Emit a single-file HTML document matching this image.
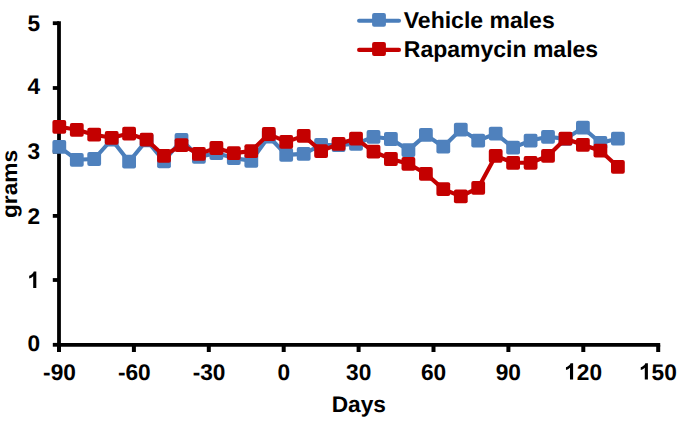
<!DOCTYPE html>
<html><head><meta charset="utf-8"><title>Chart</title>
<style>html,body{margin:0;padding:0;background:#fff;}body{width:688px;height:432px;overflow:hidden;font-family:"Liberation Sans",sans-serif;}</style></head>
<body>
<svg width="688" height="432" viewBox="0 0 688 432" style="display:block">
<rect width="688" height="432" fill="#fff"/>
<g stroke="#000" stroke-width="3.8" fill="none">
<line x1="59" y1="21.3" x2="59" y2="346.5"/>
<line x1="57.3" y1="344.8" x2="660.2" y2="344.8"/>
<line x1="52.8" y1="344.80" x2="59" y2="344.80"/>
<line x1="52.8" y1="280.00" x2="59" y2="280.00"/>
<line x1="52.8" y1="215.90" x2="59" y2="215.90"/>
<line x1="52.8" y1="151.70" x2="59" y2="151.70"/>
<line x1="52.8" y1="88.00" x2="59" y2="88.00"/>
<line x1="52.8" y1="23.20" x2="59" y2="23.20"/>
<line x1="59.00" y1="344.8" x2="59.00" y2="352" stroke-width="4"/>
<line x1="133.90" y1="344.8" x2="133.90" y2="352" stroke-width="4"/>
<line x1="208.80" y1="344.8" x2="208.80" y2="352" stroke-width="4"/>
<line x1="283.70" y1="344.8" x2="283.70" y2="352" stroke-width="4"/>
<line x1="358.60" y1="344.8" x2="358.60" y2="352" stroke-width="4"/>
<line x1="433.50" y1="344.8" x2="433.50" y2="352" stroke-width="4"/>
<line x1="508.40" y1="344.8" x2="508.40" y2="352" stroke-width="4"/>
<line x1="583.30" y1="344.8" x2="583.30" y2="352" stroke-width="4"/>
<line x1="658.20" y1="344.8" x2="658.20" y2="352" stroke-width="4"/>
</g>
<g font-family="'Liberation Sans', sans-serif" font-weight="bold" font-size="22.7px" fill="#000" text-rendering="geometricPrecision">
<text x="27.38" y="350.70">0</text>
<path transform="translate(27.38,287.94) scale(0.011084,-0.011084)" d="M806 0L525 0L525 1059Q371 915 162 846L162 1101Q272 1137 401 1237.5Q530 1338 578 1472L806 1472Z"/>
<text x="27.38" y="224.08">2</text>
<text x="27.38" y="158.62">3</text>
<text x="27.38" y="94.16">4</text>
<text x="27.38" y="30.90">5</text>
<text x="43.10" y="379.50">-90</text>
<text x="117.90" y="379.50">-60</text>
<text x="192.70" y="379.50">-30</text>
<text x="277.59" y="379.50">0</text>
<text x="346.08" y="379.50">30</text>
<text x="420.88" y="379.50">60</text>
<text x="495.68" y="379.50">90</text>
<path transform="translate(564.17,379.50) scale(0.011084,-0.011084)" d="M806 0L525 0L525 1059Q371 915 162 846L162 1101Q272 1137 401 1237.5Q530 1338 578 1472L806 1472Z"/><text x="576.79" y="379.50">20</text>
<path transform="translate(638.97,379.50) scale(0.011084,-0.011084)" d="M806 0L525 0L525 1059Q371 915 162 846L162 1101Q272 1137 401 1237.5Q530 1338 578 1472L806 1472Z"/><text x="651.59" y="379.50">50</text>
<text x="358.8" y="411.6" text-anchor="middle" font-size="22.7px">Days</text>
<text transform="translate(16.7,184.0) rotate(-90) scale(1,0.95)" text-anchor="middle" font-size="22.7px">grams</text>
<text x="403.8" y="27.5" font-size="23px">Vehicle males</text>
<text x="403.8" y="56.9" font-size="23px">Rapamycin males</text>
</g>
<polyline points="59.3,146.9 76.8,159.8 94.2,159.0 111.7,139.5 129.1,161.7 146.6,140.3 164.0,161.3 181.5,140.0 198.9,156.9 216.4,153.0 233.8,158.1 251.3,160.8 268.8,136.5 286.2,154.9 303.7,153.9 321.1,145.0 338.6,145.1 356.0,143.8 373.5,136.8 390.9,139.0 408.4,150.1 425.9,134.9 443.3,146.7 460.8,129.6 478.2,140.6 495.7,133.6 513.1,147.6 530.6,140.6 548.0,136.8 565.5,138.9 582.9,127.7 600.4,142.8 617.9,138.7" fill="none" stroke="#4A7EBB" stroke-width="4.1" stroke-linejoin="round" stroke-linecap="round"/>
<rect x="52.4" y="140.0" width="13.8" height="13.8" rx="2" fill="#4F81BD"/>
<rect x="69.9" y="152.9" width="13.8" height="13.8" rx="2" fill="#4F81BD"/>
<rect x="87.3" y="152.1" width="13.8" height="13.8" rx="2" fill="#4F81BD"/>
<rect x="104.8" y="132.6" width="13.8" height="13.8" rx="2" fill="#4F81BD"/>
<rect x="122.2" y="154.8" width="13.8" height="13.8" rx="2" fill="#4F81BD"/>
<rect x="139.7" y="133.4" width="13.8" height="13.8" rx="2" fill="#4F81BD"/>
<rect x="157.1" y="154.4" width="13.8" height="13.8" rx="2" fill="#4F81BD"/>
<rect x="174.6" y="133.1" width="13.8" height="13.8" rx="2" fill="#4F81BD"/>
<rect x="192.0" y="150.0" width="13.8" height="13.8" rx="2" fill="#4F81BD"/>
<rect x="209.5" y="146.1" width="13.8" height="13.8" rx="2" fill="#4F81BD"/>
<rect x="226.9" y="151.2" width="13.8" height="13.8" rx="2" fill="#4F81BD"/>
<rect x="244.4" y="153.9" width="13.8" height="13.8" rx="2" fill="#4F81BD"/>
<rect x="261.9" y="129.6" width="13.8" height="13.8" rx="2" fill="#4F81BD"/>
<rect x="279.3" y="148.0" width="13.8" height="13.8" rx="2" fill="#4F81BD"/>
<rect x="296.8" y="147.0" width="13.8" height="13.8" rx="2" fill="#4F81BD"/>
<rect x="314.2" y="138.1" width="13.8" height="13.8" rx="2" fill="#4F81BD"/>
<rect x="331.7" y="138.2" width="13.8" height="13.8" rx="2" fill="#4F81BD"/>
<rect x="349.1" y="136.9" width="13.8" height="13.8" rx="2" fill="#4F81BD"/>
<rect x="366.6" y="129.9" width="13.8" height="13.8" rx="2" fill="#4F81BD"/>
<rect x="384.0" y="132.1" width="13.8" height="13.8" rx="2" fill="#4F81BD"/>
<rect x="401.5" y="143.2" width="13.8" height="13.8" rx="2" fill="#4F81BD"/>
<rect x="419.0" y="128.0" width="13.8" height="13.8" rx="2" fill="#4F81BD"/>
<rect x="436.4" y="139.8" width="13.8" height="13.8" rx="2" fill="#4F81BD"/>
<rect x="453.9" y="122.7" width="13.8" height="13.8" rx="2" fill="#4F81BD"/>
<rect x="471.3" y="133.7" width="13.8" height="13.8" rx="2" fill="#4F81BD"/>
<rect x="488.8" y="126.7" width="13.8" height="13.8" rx="2" fill="#4F81BD"/>
<rect x="506.2" y="140.7" width="13.8" height="13.8" rx="2" fill="#4F81BD"/>
<rect x="523.7" y="133.7" width="13.8" height="13.8" rx="2" fill="#4F81BD"/>
<rect x="541.1" y="129.9" width="13.8" height="13.8" rx="2" fill="#4F81BD"/>
<rect x="558.6" y="132.0" width="13.8" height="13.8" rx="2" fill="#4F81BD"/>
<rect x="576.0" y="120.8" width="13.8" height="13.8" rx="2" fill="#4F81BD"/>
<rect x="593.5" y="135.9" width="13.8" height="13.8" rx="2" fill="#4F81BD"/>
<rect x="611.0" y="131.8" width="13.8" height="13.8" rx="2" fill="#4F81BD"/>

<polyline points="59.3,126.8 76.8,129.8 94.2,134.7 111.7,137.8 129.1,133.6 146.6,139.7 164.0,155.8 181.5,145.1 198.9,153.9 216.4,148.0 233.8,153.1 251.3,151.1 268.8,134.0 286.2,141.9 303.7,135.9 321.1,151.1 338.6,143.8 356.0,138.7 373.5,151.6 390.9,159.0 408.4,163.8 425.9,173.8 443.3,189.1 460.8,196.3 478.2,187.9 495.7,155.8 513.1,162.8 530.6,162.8 548.0,155.8 565.5,138.7 582.9,144.8 600.4,150.7 617.9,166.8" fill="none" stroke="#C40000" stroke-width="4.1" stroke-linejoin="round" stroke-linecap="round"/>
<rect x="52.4" y="119.9" width="13.8" height="13.8" rx="2" fill="#C40000"/>
<rect x="69.9" y="122.9" width="13.8" height="13.8" rx="2" fill="#C40000"/>
<rect x="87.3" y="127.8" width="13.8" height="13.8" rx="2" fill="#C40000"/>
<rect x="104.8" y="130.9" width="13.8" height="13.8" rx="2" fill="#C40000"/>
<rect x="122.2" y="126.7" width="13.8" height="13.8" rx="2" fill="#C40000"/>
<rect x="139.7" y="132.8" width="13.8" height="13.8" rx="2" fill="#C40000"/>
<rect x="157.1" y="148.9" width="13.8" height="13.8" rx="2" fill="#C40000"/>
<rect x="174.6" y="138.2" width="13.8" height="13.8" rx="2" fill="#C40000"/>
<rect x="192.0" y="147.0" width="13.8" height="13.8" rx="2" fill="#C40000"/>
<rect x="209.5" y="141.1" width="13.8" height="13.8" rx="2" fill="#C40000"/>
<rect x="226.9" y="146.2" width="13.8" height="13.8" rx="2" fill="#C40000"/>
<rect x="244.4" y="144.2" width="13.8" height="13.8" rx="2" fill="#C40000"/>
<rect x="261.9" y="127.1" width="13.8" height="13.8" rx="2" fill="#C40000"/>
<rect x="279.3" y="135.0" width="13.8" height="13.8" rx="2" fill="#C40000"/>
<rect x="296.8" y="129.0" width="13.8" height="13.8" rx="2" fill="#C40000"/>
<rect x="314.2" y="144.2" width="13.8" height="13.8" rx="2" fill="#C40000"/>
<rect x="331.7" y="136.9" width="13.8" height="13.8" rx="2" fill="#C40000"/>
<rect x="349.1" y="131.8" width="13.8" height="13.8" rx="2" fill="#C40000"/>
<rect x="366.6" y="144.7" width="13.8" height="13.8" rx="2" fill="#C40000"/>
<rect x="384.0" y="152.1" width="13.8" height="13.8" rx="2" fill="#C40000"/>
<rect x="401.5" y="156.9" width="13.8" height="13.8" rx="2" fill="#C40000"/>
<rect x="419.0" y="166.9" width="13.8" height="13.8" rx="2" fill="#C40000"/>
<rect x="436.4" y="182.2" width="13.8" height="13.8" rx="2" fill="#C40000"/>
<rect x="453.9" y="189.4" width="13.8" height="13.8" rx="2" fill="#C40000"/>
<rect x="471.3" y="181.0" width="13.8" height="13.8" rx="2" fill="#C40000"/>
<rect x="488.8" y="148.9" width="13.8" height="13.8" rx="2" fill="#C40000"/>
<rect x="506.2" y="155.9" width="13.8" height="13.8" rx="2" fill="#C40000"/>
<rect x="523.7" y="155.9" width="13.8" height="13.8" rx="2" fill="#C40000"/>
<rect x="541.1" y="148.9" width="13.8" height="13.8" rx="2" fill="#C40000"/>
<rect x="558.6" y="131.8" width="13.8" height="13.8" rx="2" fill="#C40000"/>
<rect x="576.0" y="137.9" width="13.8" height="13.8" rx="2" fill="#C40000"/>
<rect x="593.5" y="143.8" width="13.8" height="13.8" rx="2" fill="#C40000"/>
<rect x="611.0" y="159.9" width="13.8" height="13.8" rx="2" fill="#C40000"/>

<line x1="359.1" y1="20.7" x2="399.0" y2="20.7" stroke="#4A7EBB" stroke-width="4.1" stroke-linecap="round"/>
<rect x="372.1" y="12.9" width="13.8" height="13.8" rx="2" fill="#4F81BD"/>
<line x1="359.1" y1="49.9" x2="399.0" y2="49.9" stroke="#C40000" stroke-width="4.1" stroke-linecap="round"/>
<rect x="372.1" y="42.1" width="13.8" height="13.8" rx="2" fill="#C40000"/>
</svg>
</body></html>
